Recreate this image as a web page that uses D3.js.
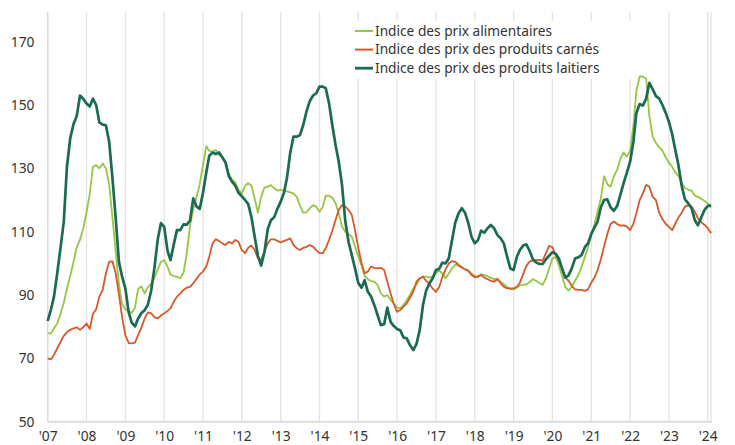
<!DOCTYPE html>
<html>
<head>
<meta charset="utf-8">
<script src="https://cdn.jsdelivr.net/npm/d3@7"></script>
<style>
  html, body { margin: 0; padding: 0; background: #fff; }
</style>
</head>
<body>
<div id="chart"></div>
<script>
// monthly series, Jan 2007 -> Feb 2024 (one row per year)
const firstMonth = [2007, 0];

const foodIndex = [
  78, 77.8, 79.5, 81, 84, 87.5, 92, 96, 100.5, 105, 107.5, 111,
  116, 122, 130.5, 131, 130, 131.5, 130, 125, 114.5, 104, 93.5, 87,
  85.5, 85, 84.3, 86, 92, 92.7, 90.5, 92.5, 93.5, 95.5, 98, 100.5,
  101, 99, 96.5, 96, 95.8, 95.3, 97, 103, 112, 117, 121, 125,
  131, 137, 135.5, 135.3, 135.8, 134.2, 133.7, 132.1, 128.4, 126.3, 125.6, 123.2,
  122.1, 124.5, 125.3, 124.5, 120.5, 116, 121, 124, 124.2, 124.7, 123.7, 123,
  123.2, 122.9, 122.7, 122.4, 122.1, 121, 118.2, 116, 116.1, 117.4, 118.4, 117.9,
  116.3, 117.9, 121.4, 121.3, 120.8, 119, 115.8, 111.6, 110, 109.2, 108.4, 105.3,
  102.1, 99.3, 96, 95, 94.4, 94.2, 93.2, 90.5, 89.5, 90, 88.4, 87.4,
  86, 85.8, 86.9, 88.4, 90, 92.1, 93.2, 95.1, 95.8, 95.8, 95.5, 95.9,
  97, 97.7, 96.8, 95.3, 96.8, 98.4, 99.6, 99.2, 98.6, 98.2, 97.9, 96.8,
  96, 95.6, 96.6, 96.3, 95.9, 95.4, 95, 95.2, 94.2, 93.4, 92.5, 91.9,
  91.8, 92.3, 93.1, 93.2, 93.4, 94.1, 95, 94.5, 93.8, 93.2, 95.3, 98.3,
  101.5, 102.1, 99.5, 96, 92.5, 91.4, 92.6, 94.5, 96.3, 98.9, 101.9, 105.1,
  108.7, 112.6, 116.3, 120.5, 127.5, 125, 124.2, 127.5, 129.5, 133, 135, 133.7,
  135.6, 143.5, 154.5, 159, 159, 158.3, 146.5, 140, 138, 136.7, 135.6, 133.5,
  131.8, 130.5, 128.8, 127.6, 125.5, 123.8, 123.3, 123, 121.4, 121, 120.4, 119.8,
  118.9, 117.6
];

const meatIndex = [
  70, 69.7, 71.1, 73.2, 75.1, 77.1, 78.3, 79, 79.5, 79.8, 79, 79.8,
  81, 79.3, 84, 85.5, 89.5, 91.6, 96.8, 100.5, 100.6, 97, 90.3, 83,
  77.3, 74.8, 74.7, 75, 77.4, 79.8, 82.6, 84.5, 84.2, 83, 82.6, 83.5,
  84.2, 85, 85.8, 87.9, 89.5, 90.5, 91.6, 92.3, 92.6, 93.7, 95.1, 96.5,
  97.4, 99, 102.1, 106.3, 107.6, 107.1, 106.3, 105.8, 106.8, 106.3, 107.4, 106.8,
  104.2, 103.2, 104.9, 105.6, 104.2, 101.6, 101.1, 103.7, 106.3, 107.6, 107.6, 107.1,
  106.6, 107.1, 107.4, 107.9, 105.8, 104.8, 104.2, 104.9, 105.2, 105.8, 105.3, 104.2,
  103.2, 103.2, 104.8, 107.4, 110.2, 113.7, 116.9, 118.4, 117.9, 116.9, 115.3, 110.5,
  104.8, 100, 96.9, 97.4, 99, 98.6, 98.4, 98.6, 97.9, 94.2, 90.5, 87.1,
  84.7, 85.3, 86.3, 87.4, 89.2, 91, 94.2, 95.3, 95.8, 94.4, 93.5, 92,
  91, 92.6, 95.6, 98.1, 100, 100.7, 100.5, 99.5, 98.8, 98.1, 97.6, 96.3,
  95.6, 96, 96.3, 95.5, 95, 94.5, 94.2, 95, 93.7, 92.6, 92.1, 92.1,
  92.1, 92.6, 93.9, 96.6, 99.2, 100.6, 100.9, 101, 101.1, 100.9, 103.2, 105.5,
  105.1, 102.6, 100.9, 98.4, 95.5, 94.5, 92.9, 91.8, 91.6, 91.6, 91.3, 91.8,
  93.9, 95.6, 97.9, 101.3, 105.3, 109.3, 112.4, 113.2, 112.4, 111.9, 112, 111.6,
  110.5, 112.5, 115.8, 120, 122.1, 124.8, 124.2, 121, 120, 116, 114, 112.5,
  111.5, 110.5, 112.5, 114.5, 116, 117.9, 118.4, 118, 116.3, 114.2, 113, 112.2,
  111.1, 109.5
];

const dairyIndex = [
  81.8, 85.5, 89.5, 97, 104.8, 113, 130.5, 139.5, 144, 146.5, 153, 152,
  150.5, 149.5, 152, 150, 144.5, 143.8, 143.6, 138.5, 127, 114.5, 100.5, 95.8,
  92, 84.5, 81.3, 80.1, 82.6, 84.3, 85.2, 87, 91.5, 98.5, 107.5, 112.7,
  111.5, 104, 101, 106, 110.5, 110.5, 112.3, 112.2, 113.5, 120.5, 118, 117.2,
  122.3, 128.7, 134, 135, 134.5, 135, 133.5, 131.8, 127.5, 125.8, 124.5, 122.3,
  121.2, 120, 118.8, 114.5, 108.5, 102.3, 99.3, 103.6, 110.8, 113.6, 114.6, 117.2,
  119.5, 122.3, 127, 135, 140, 140, 140.5, 143.7, 148, 151.2, 153, 153.7,
  155.8, 155.8, 155.3, 150.5, 143.7, 137.4, 132.1, 124.7, 113.2, 106.8, 102.6, 98.4,
  93.8, 92.3, 94.7, 91, 89.5, 86.8, 83.7, 80.5, 80.8, 86, 81.5, 80.2,
  79.3, 78.8, 76.6, 76.3, 74.2, 72.6, 74.5, 79, 87, 91.5, 93.7, 95.3,
  97.9, 98.3, 100.2, 100, 101.6, 107.4, 112.8, 115.8, 117.4, 116, 112.7, 108.4,
  106.3, 107.4, 110.3, 109.7, 111.1, 112.1, 111.1, 109, 107.9, 106.3, 102.1, 98.4,
  97.9, 102.1, 104.2, 105.6, 106, 103.9, 101.3, 100.3, 99.8, 99.8, 101.3, 102.4,
  103.5, 103, 101.6, 98.4, 95.5, 96.2, 98.4, 101.5, 101.9, 102.6, 105.1, 106.3,
  109.3, 111.4, 113.2, 117.7, 120, 120.2, 117.7, 116.6, 118.1, 121.6, 125.3, 128.6,
  132.1, 138.4, 147.5, 150.3, 149.8, 152, 157, 155, 152.8, 152.1, 150, 147.6,
  144.7, 140.8, 136, 131, 124.5, 120.2, 119, 117.5, 113.7, 112, 114.5, 116.8,
  118.1, 118.4
];

const seriesLabels = [
  'Indice des prix alimentaires',
  'Indice des prix des produits carnés',
  'Indice des prix des produits laitiers'
];
const yTickValues = [50, 70, 90, 110, 130, 150, 170];
const tickYears = [2007, 2008, 2009, 2010, 2011, 2012, 2013, 2014, 2015,
                   2016, 2017, 2018, 2019, 2020, 2021, 2022, 2023, 2024];

// layout + look
const width = 735, height = 445;
const plotLeft = 47.7, plot24 = 707.7, plotBottom = 421.7, plotTop = 12;
const colors = ['#95c644', '#d4592b', '#1b6a54'];
const strokeW = [1.8, 1.8, 2.7];
const fontFam = '"Noto Sans", "Open Sans", sans-serif';

const monthDate = i => new Date(firstMonth[0], firstMonth[1] + i, 1);

const x = d3.scaleTime()
  .domain([new Date(2007, 0, 1), new Date(2024, 0, 1)])
  .range([plotLeft, plot24]);
const y = d3.scaleLinear()
  .domain([50, 180])
  .range([plotBottom, 10]);

const svg = d3.select('#chart').append('svg')
  .attr('width', width)
  .attr('height', height);

const lastDate = monthDate(foodIndex.length - 1);
const rightEdge = x(lastDate);

// vertical year grid
svg.append('g')
  .selectAll('line').data(tickYears.slice(1)).enter().append('line')
  .attr('x1', d => x(new Date(d, 0, 1))).attr('x2', d => x(new Date(d, 0, 1)))
  .attr('y1', plotTop).attr('y2', plotBottom)
  .attr('stroke', '#e3e3e3').attr('stroke-width', 1.3);
// right frame
svg.append('line')
  .attr('x1', rightEdge).attr('x2', rightEdge).attr('y1', plotTop).attr('y2', plotBottom)
  .attr('stroke', '#e3e3e3').attr('stroke-width', 1.3);
// left axis line + baseline
svg.append('line')
  .attr('x1', plotLeft).attr('x2', plotLeft).attr('y1', plotTop).attr('y2', plotBottom)
  .attr('stroke', '#dcdcdc').attr('stroke-width', 1.6);
svg.append('line')
  .attr('x1', plotLeft).attr('x2', rightEdge + 1).attr('y1', plotBottom).attr('y2', plotBottom)
  .attr('stroke', '#dcdcdc').attr('stroke-width', 2);

// legend background hides the grid behind it
svg.append('rect')
  .attr('x', 348).attr('y', 21).attr('width', 292).attr('height', 58)
  .attr('fill', '#fff');

// axes (labels only)
const yAxis = svg.append('g')
  .attr('transform', `translate(${plotLeft},0)`)
  .call(d3.axisLeft(y).tickValues(yTickValues).tickSize(0).tickPadding(13.2));
const xAxis = svg.append('g')
  .attr('transform', `translate(0,${plotBottom})`)
  .call(d3.axisBottom(x)
    .tickValues(tickYears.map(d => new Date(d, 0, 1)))
    .tickFormat(d => "'" + String(d.getFullYear()).slice(2))
    .tickSize(0).tickPadding(9.2));
[yAxis, xAxis].forEach(g => {
  g.select('.domain').remove();
  g.attr('font-family', fontFam).attr('font-size', 13.8);
  g.selectAll('text').attr('fill', '#333');
});

// series lines
const allSeries = [foodIndex, meatIndex, dairyIndex];
const line = d3.line()
  .x((d, i) => x(monthDate(i)))
  .y(d => y(d));

svg.append('g').selectAll('path').data(allSeries).enter().append('path')
  .attr('d', d => line(d))
  .attr('fill', 'none')
  .attr('stroke', (d, i) => colors[i])
  .attr('stroke-width', (d, i) => strokeW[i])
  .attr('stroke-linejoin', 'round');

// legend
const legend = svg.append('g').selectAll('g').data(seriesLabels).enter().append('g')
  .attr('transform', (d, i) => `translate(355,${31 + i * 18.6})`);
legend.append('line')
  .attr('x1', 0).attr('x2', 18).attr('y1', 0).attr('y2', 0)
  .attr('stroke', (d, i) => colors[i])
  .attr('stroke-width', (d, i) => i == 2 ? 2.8 : 2);
legend.append('text')
  .attr('x', 20).attr('dy', '0.35em')
  .attr('font-family', fontFam).attr('font-size', 13.7)
  .attr('fill', '#333')
  .text(d => d);
</script>
</body>
</html>
